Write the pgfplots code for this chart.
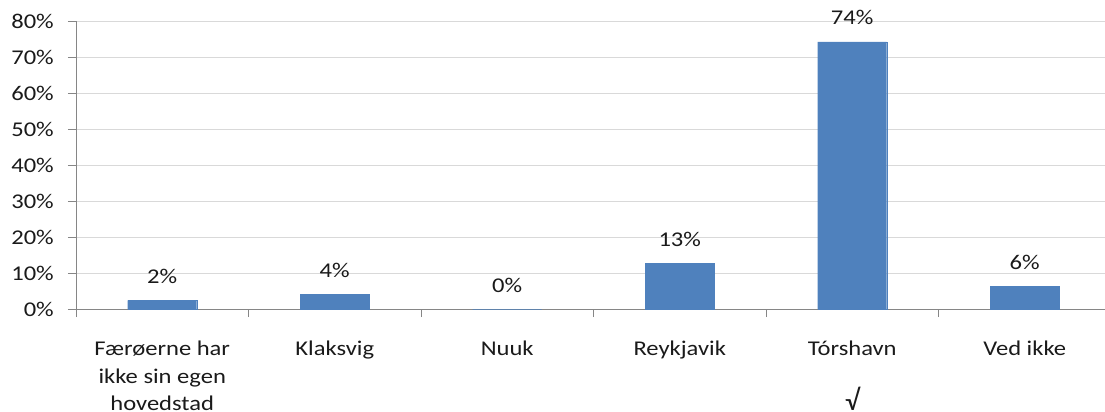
\documentclass[border=0pt]{standalone}
\usepackage{pgfplots}
\pgfplotsset{compat=1.18}
\usepackage{fontspec}
\setmainfont{Carlito}
\usepackage{graphicx}
\definecolor{barblue}{HTML}{4F81BD}
\definecolor{gridgray}{HTML}{D9D9D9}
\definecolor{axisgray}{HTML}{868686}
\definecolor{txt}{HTML}{1A1A1A}
% the reference is stretched sideways, so the text is widened a little
\newcommand\wide[1]{\scalebox{1.17}[1]{#1}}
\newcommand\lblfont{\fontsize{21bp}{27.5bp}\selectfont}

\begin{document}
\begin{tikzpicture}
\begin{axis}[
    at={(0,0)}, anchor=south west,
    scale only axis,
    width=1035bp, height=288bp,
    xmin=-0.5, xmax=5.5,
    ymin=0, ymax=80,
    axis x line=bottom, axis y line=left,
    axis line style={-, axisgray, line width=0.8bp},
    tick align=outside,
    major tick length=8bp,
    tick style={axisgray, line width=0.8bp},
    ytick={0,10,...,80},
    yticklabels={\wide{0\%},\wide{10\%},\wide{20\%},\wide{30\%},\wide{40\%},\wide{50\%},\wide{60\%},\wide{70\%},\wide{80\%}},
    yticklabel style={anchor=east, inner sep=0pt, xshift=-14bp, font=\lblfont, text=txt},
    ymajorgrids,
    grid style={gridgray, line width=0.8bp},
    xtick={-0.5,0.5,...,5.5},
    xticklabels={},
    extra x ticks={0,1,2,3,4,5},
    extra x tick labels={
        {\wide{Færøerne har}\\\wide{ikke sin egen}\\\wide{hovedstad}},
        \wide{Klaksvig},
        \wide{Nuuk},
        \wide{Reykjavik},
        {\wide{Tórshavn}\\[27bp]{\fontsize{29bp}{29bp}\selectfont √}},
        \wide{Ved ikke}},
    extra x tick style={major tick length=0pt, grid=none},
    xticklabel style={anchor=north, align=center, inner sep=0pt, yshift=-32bp, font=\lblfont, text=txt},
    ybar,
    bar width=0.4,
    nodes near coords={\wide{\pgfmathprintnumber[fixed,precision=0,assume math mode=true]{\pgfplotspointmeta}\%}},
    nodes near coords style={anchor=base, inner sep=0pt, yshift=17bp, font=\lblfont, text=txt},
]
\addplot[fill=barblue, draw=barblue] coordinates {(0,2.4) (1,4.1) (2,0) (3,12.7) (4,74.2) (5,6.3)};
\end{axis}
\pgfresetboundingbox
\useasboundingbox (-76bp,-103bp) rectangle (1029bp,309bp);
\end{tikzpicture}
\end{document}
